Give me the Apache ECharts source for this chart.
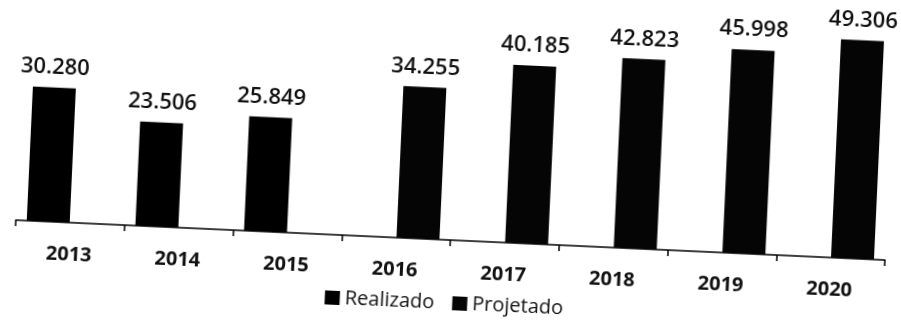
<!DOCTYPE html>
<html>
<head>
<meta charset="utf-8">
<script src="https://cdn.jsdelivr.net/npm/echarts@6/dist/echarts.min.js"></script>
<style>
  html, body { margin: 0; padding: 0; background: #fff; overflow: hidden; }
  body { width: 901px; height: 321px; position: relative; }
  /* canvas extends 30px above the page so top labels are not cut by the tilt */
  #chart { position: absolute; left: 0; top: -30px; width: 901px; height: 351px;
           transform: rotate(2.63deg); transform-origin: 450.5px 190.5px; }
</style>
</head>
<body>
<div id="chart"></div>
<script>
// Annual volumes: realized (2013–2015) and projected (2016–2020)
const years = ['2013', '2014', '2015', '2016', '2017', '2018', '2019', '2020'];
const realizado = [30280, 23506, 25849, null, null, null, null, null];
const projetado = [null, null, null, 34255, 40185, 42823, 45998, 49306];

const fmt = v => String(v).replace(/\B(?=(\d{3})+(?!\d))/g, '.');
const fontFamily = '"Open Sans", "Noto Sans", sans-serif';

const valueLabel = {
  show: true,
  position: 'top',
  distance: 9,
  color: '#111',
  fontFamily,
  fontSize: 22,
  fontWeight: 600,
  formatter: p => fmt(p.value)
};

const chart = echarts.init(document.getElementById('chart'), null, { renderer: 'canvas' });
chart.setOption({
  animation: false,
  backgroundColor: '#fff',
  grid: { left: 19, right: 12, top: 48.5, bottom: 81, containLabel: false },
  legend: {
    top: 318,
    left: 'center',
    itemWidth: 15,
    itemHeight: 14,
    itemGap: 18,
    icon: 'rect',
    textStyle: { fontFamily, fontSize: 20, color: '#111' },
    data: ['Realizado', 'Projetado']
  },
  xAxis: {
    type: 'category',
    data: years,
    axisLine: { show: true, lineStyle: { color: '#000', width: 1.5 } },
    axisTick: { show: true, length: 6, lineStyle: { color: '#000', width: 1.5 } },
    axisLabel: { margin: 22, fontFamily, fontSize: 20, fontWeight: 700, color: '#111' }
  },
  yAxis: {
    type: 'value',
    min: 0,
    max: 50000,
    show: false,
    splitLine: { show: false }
  },
  series: [
    {
      name: 'Realizado',
      type: 'bar',
      data: realizado,
      barWidth: 43,
      barGap: '2%',
      itemStyle: { color: '#000' },
      label: valueLabel
    },
    {
      name: 'Projetado',
      type: 'bar',
      data: projetado,
      barWidth: 43,
      itemStyle: { color: '#050505' },
      label: valueLabel
    }
  ]
});
</script>
</body>
</html>
